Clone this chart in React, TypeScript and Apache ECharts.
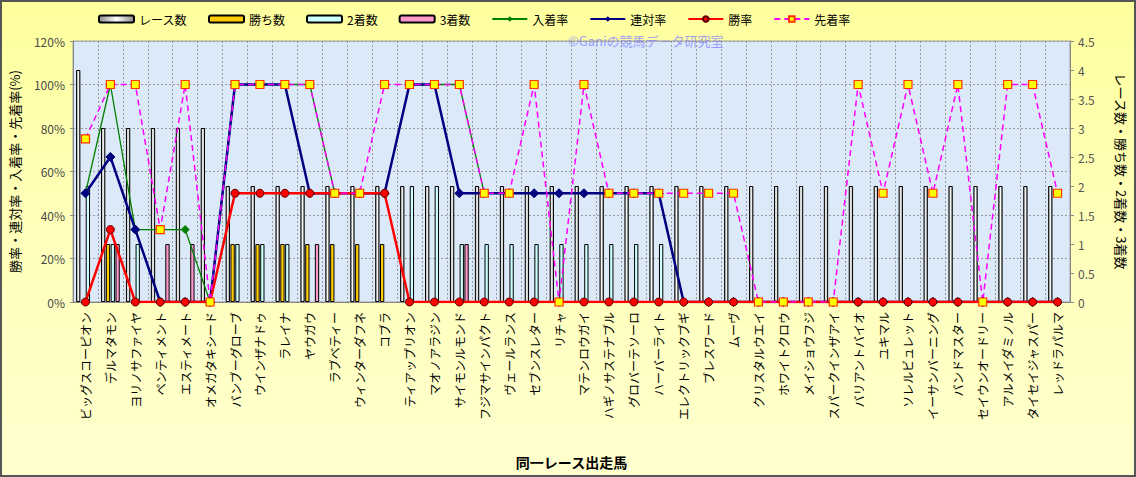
import React, { useEffect, useRef } from "react";
import * as echarts from "echarts";

const categories = [
  "ビッグスコーピオン", "デルマタモン", "ヨリノサファイヤ", "ペンティメント", "エスティメート",
  "オメガタキシード", "バンブーグローブ", "ウインザナドゥ", "ラレイナ", "ヤウガウ",
  "ラブベティー", "ウィンターダフネ", "コブラ", "ティアップリオン", "マオノアラジン",
  "サイモンルモンド", "フジマサインパクト", "ヴェールランス", "セブンスレター", "リチャ",
  "マテンロウガイ", "ハギノサステナブル", "グロバーテソーロ", "ハーバーライト", "エレクトリックブギ",
  "ブレスワード", "ムーヴ", "クリスタルウエイ", "ホワイトクロウ", "メイショウフジ",
  "スパークインザアイ", "バリアントバイオ", "ユキマル", "ソレルビュレット", "イーサンバーニング",
  "バンドマスター", "セイウンオードリー", "アルメイダミノル", "タイセイジャスパー", "レッドラパルマ",
];

const raceCount = [4, 3, 3, 3, 3, 3, 2, 2, 2, 2, 2, 2, 2, 2, 2, 2, 2, 2, 2, 2, 2, 2, 2, 2, 2, 2, 2, 2, 2, 2, 2, 2, 2, 2, 2, 2, 2, 2, 2, 2];
const winCount = [0, 1, 0, 0, 0, 0, 1, 1, 1, 1, 1, 1, 1, 0, 0, 0, 0, 0, 0, 0, 0, 0, 0, 0, 0, 0, 0, 0, 0, 0, 0, 0, 0, 0, 0, 0, 0, 0, 0, 0];
const secondCount = [2, 1, 1, 0, 0, 0, 1, 1, 1, 0, 0, 0, 0, 2, 2, 1, 1, 1, 1, 1, 1, 1, 1, 1, 0, 0, 0, 0, 0, 0, 0, 0, 0, 0, 0, 0, 0, 0, 0, 0];
const thirdCount = [0, 1, 0, 1, 1, 0, 0, 0, 0, 1, 0, 0, 0, 0, 0, 1, 0, 0, 0, 0, 0, 0, 0, 0, 0, 0, 0, 0, 0, 0, 0, 0, 0, 0, 0, 0, 0, 0, 0, 0];

const nyuchakuRate = [50, 100, 33.3, 33.3, 33.3, 0, 100, 100, 100, 100, 50, 50, 50, 100, 100, 100, 50, 50, 50, 50, 50, 50, 50, 50, 0, 0, 0, 0, 0, 0, 0, 0, 0, 0, 0, 0, 0, 0, 0, 0];
const rentaiRate = [50, 66.7, 33.3, 0, 0, 0, 100, 100, 100, 50, 50, 50, 50, 100, 100, 50, 50, 50, 50, 50, 50, 50, 50, 50, 0, 0, 0, 0, 0, 0, 0, 0, 0, 0, 0, 0, 0, 0, 0, 0];
const winRate = [0, 33.3, 0, 0, 0, 0, 50, 50, 50, 50, 50, 50, 50, 0, 0, 0, 0, 0, 0, 0, 0, 0, 0, 0, 0, 0, 0, 0, 0, 0, 0, 0, 0, 0, 0, 0, 0, 0, 0, 0];
const senchakuRate = [75, 100, 100, 33.3, 100, 0, 100, 100, 100, 100, 50, 50, 100, 100, 100, 100, 50, 50, 100, 0, 100, 50, 50, 50, 50, 50, 50, 0, 0, 0, 0, 100, 50, 100, 50, 100, 0, 100, 100, 50];

const leftTicks = { min: 0, max: 120, interval: 20 };
const rightTicks = { min: 0, max: 4.5, interval: 0.5 };

const nz = (arr: number[]) => arr.map((v) => (v === 0 ? null : v));

const FONT = "'Noto Sans CJK JP', 'Noto Sans', sans-serif";

export default function App() {
  const ref = useRef<HTMLDivElement>(null);
  useEffect(() => {
    document.body.style.margin = "0";
    if (!ref.current) return;
    const chart = echarts.init(ref.current, null, { renderer: "svg" });
    const barCommon = {
      type: "bar" as const,
      yAxisIndex: 1,
      barWidth: 4.3,
      barGap: "12%",
      itemStyle: { borderColor: "#000", borderWidth: 1 },
    };
    const option: any = {
      animation: false,
      backgroundColor: "transparent",
      textStyle: { fontFamily: FONT },
      legend: {
        top: 8,
        left: 93,
        itemWidth: 35,
        itemHeight: 7,
        itemGap: 21,
        textStyle: { fontSize: 12, color: "#000", fontFamily: FONT },
        data: ["レース数", "勝ち数", "2着数", "3着数", "入着率", "連対率", "勝率", "先着率"],
      },
      grid: {
        left: 72,
        right: 63,
        top: 41,
        bottom: 175,
        show: true,
        backgroundColor: "#DCE9F8",
        borderColor: "#A0A0A0",
        borderWidth: 1,
      },
      graphic: [
        {
          type: "text",
          left: 568,
          top: 34,
          silent: true,
          style: {
            text: "©Ganiの競馬データ研究室",
            fill: "rgba(130,130,255,0.75)",
            font: `13px ${FONT}`,
          },
        },
        {
          type: "rect",
          silent: true,
          shape: { x: 1, y: 1, width: 1134, height: 475 },
          style: { fill: "none", stroke: "#555", lineWidth: 2 },
        },
      ],
      xAxis: {
        type: "category",
        data: categories,
        boundaryGap: true,
        name: "同一レース出走馬",
        nameLocation: "middle",
        nameGap: 153,
        nameTextStyle: { fontSize: 14, fontWeight: "bold", color: "#000", fontFamily: FONT },
        axisLine: { lineStyle: { color: "#888" } },
        axisTick: { show: false },
        axisLabel: { rotate: 90, interval: 0, fontSize: 12, color: "#000", margin: 10, fontFamily: FONT },
        splitLine: { show: true, lineStyle: { color: "#9A9A9A", type: [2, 2], width: 1 } },
      },
      yAxis: [
        {
          type: "value",
          ...leftTicks,
          name: "勝率・連対率・入着率・先着率(%)",
          nameLocation: "middle",
          nameRotate: 90,
          nameGap: 52,
          nameTextStyle: { fontSize: 13, color: "#000", fontFamily: FONT },
          axisLine: { show: true, lineStyle: { color: "#888" } },
          axisTick: { show: true, length: 3, lineStyle: { color: "#888" } },
          axisLabel: { formatter: "{value}%", color: "#4a4a4a", fontSize: 12, margin: 8, fontFamily: FONT },
          splitLine: { show: true, lineStyle: { color: "#9A9A9A", type: [2, 2], width: 1 } },
        },
        {
          type: "value",
          ...rightTicks,
          name: "レース数・勝ち数・2着数・3着数",
          nameLocation: "middle",
          nameRotate: -90,
          nameGap: 45,
          nameTextStyle: { fontSize: 13, color: "#000", fontFamily: FONT },
          axisLine: { show: true, lineStyle: { color: "#888" } },
          axisTick: { show: true, length: 4, lineStyle: { color: "#888" } },
          axisLabel: { color: "#555", fontSize: 12, margin: 8, fontFamily: FONT },
          splitLine: { show: false },
        },
      ],
      series: [
        {
          ...barCommon,
          name: "レース数",
          data: nz(raceCount),
          itemStyle: {
            borderColor: "#000",
            borderWidth: 1,
            color: new echarts.graphic.LinearGradient(0, 0, 1, 0, [
              { offset: 0, color: "#8a8a8a" },
              { offset: 0.5, color: "#ffffff" },
              { offset: 1, color: "#8a8a8a" },
            ]),
          },
        },
        { ...barCommon, name: "勝ち数", data: nz(winCount), itemStyle: { borderColor: "#000", borderWidth: 1, color: "#FFCC00" } },
        { ...barCommon, name: "2着数", data: nz(secondCount), itemStyle: { borderColor: "#000", borderWidth: 1, color: "#CCFFFF" } },
        { ...barCommon, name: "3着数", data: nz(thirdCount), itemStyle: { borderColor: "#000", borderWidth: 1, color: "#FF99CC" } },
        {
          type: "line",
          name: "入着率",
          yAxisIndex: 0,
          data: nyuchakuRate,
          symbol: "diamond",
          symbolSize: 8,
          lineStyle: { color: "#008000", width: 1.3 },
          itemStyle: { color: "#008000", borderColor: "#008000" },
        },
        {
          type: "line",
          name: "連対率",
          yAxisIndex: 0,
          data: rentaiRate,
          symbol: "diamond",
          symbolSize: 9,
          lineStyle: { color: "#000080", width: 2.5 },
          itemStyle: { color: "#000080", borderColor: "#000080" },
        },
        {
          type: "line",
          name: "勝率",
          yAxisIndex: 0,
          data: winRate,
          symbol: "circle",
          symbolSize: 8,
          lineStyle: { color: "#FF0000", width: 2.5 },
          itemStyle: { color: "#FF0000", borderColor: "#600000", borderWidth: 1 },
        },
        {
          type: "line",
          name: "先着率",
          yAxisIndex: 0,
          data: senchakuRate,
          symbol: "rect",
          symbolSize: 8,
          lineStyle: { color: "#FF00FF", width: 1.5, type: [6, 4] },
          itemStyle: { color: "#FFFF00", borderColor: "#FF3300", borderWidth: 1.2 },
        },
      ],
    };
    chart.setOption(option);
    return () => chart.dispose();
  }, []);
  return (
    <div
      ref={ref}
      style={{
        width: 1136,
        height: 477,
        background: "linear-gradient(to bottom, #FFFF9E 0%, #FFFFB8 45%, #FFFFCF 100%)",
      }}
    />
  );
}
